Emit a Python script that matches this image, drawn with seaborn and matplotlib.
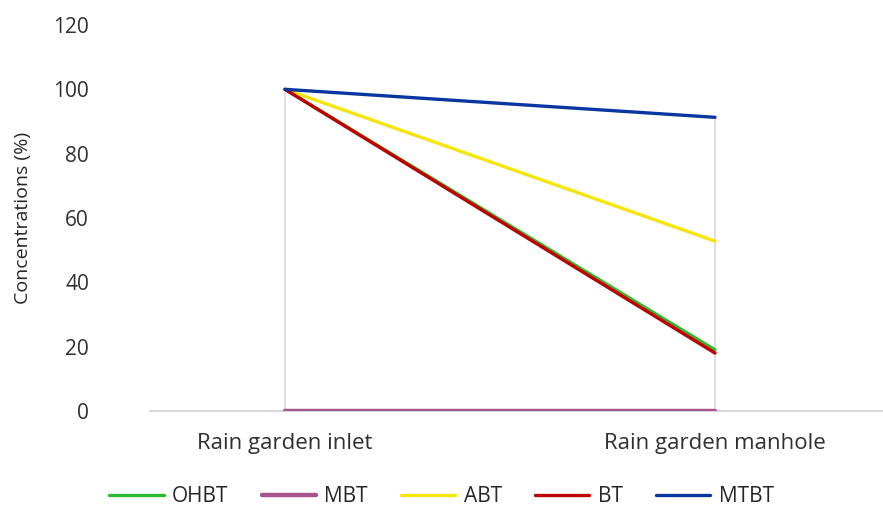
import matplotlib
matplotlib.use("Agg")
import matplotlib.pyplot as plt
import seaborn as sns
import pandas as pd
from matplotlib.lines import Line2D

sites = ["Rain garden inlet", "Rain garden manhole"]
series = ["OHBT", "MBT", "ABT", "BT", "MTBT"]
ohbt = [100, 19]
mbt = [0, 0]
abt = [100, 52.8]
bt = [100, 18]
mtbt = [100, 91.3]
y_ticks = [0, 20, 40, 60, 80, 100, 120]

colors = {"OHBT": "#2EB82E", "MBT": "#A8558E", "ABT": "#F5E50A",
          "BT": "#C00000", "MTBT": "#0A36A0"}

values = {"OHBT": ohbt, "MBT": mbt, "ABT": abt, "BT": bt, "MTBT": mtbt}
rows = []
for name in series:
    for i, site in enumerate(sites):
        rows.append({"pos": i, "site": site, "series": name, "value": values[name][i]})
df = pd.DataFrame(rows)

sns.set_style("white")
plt.rcParams["font.family"] = ["Open Sans", "DejaVu Sans"]

fig = plt.figure(figsize=(8.83, 5.12), dpi=100)
ax = fig.add_axes([150 / 883, (512 - 411) / 512, (883 - 150) / 883, (411 - 25) / 512])

# drop lines from highest point of each category down to the axis
tops = df.groupby("pos")["value"].max()
ax.vlines(tops.index, 0, tops.values, color="#D9D9D9", lw=1.2, zorder=1)

sns.lineplot(data=df, x="pos", y="value", hue="series", hue_order=series,
             palette=colors, ax=ax, lw=2.4, zorder=3, legend=False)
for line in ax.lines:
    if line.get_color().lower() == colors["MBT"].lower():
        line.set_linewidth(3.2)
        line.set_zorder(4)

ax.set_xlim(-135 / 430, 1 + 168 / 430)
ax.set_ylim(0, 120)
ax.set_yticks(y_ticks)
ax.set_xticks(range(len(sites)))
ax.set_xticklabels(sites)
ax.tick_params(axis="both", length=0, labelsize=15, colors="#303030")
ax.tick_params(axis="x", pad=16, labelsize=16)
ax.tick_params(axis="y", pad=44)
ax.set_xlabel("")
ax.set_ylabel("Concentrations (%)", fontsize=14, color="#262626", labelpad=15)
for s in ["top", "right", "left"]:
    ax.spines[s].set_visible(False)
ax.spines["bottom"].set_color("#D9D9D9")
ax.spines["bottom"].set_linewidth(1.5)
ax.grid(False)

handles = [Line2D([0], [0], color=colors[n], lw=3.2 if n == "MBT" else 2.4) for n in series]
fig.legend(handles, series, loc="center", bbox_to_anchor=(0.5, (512 - 497) / 512),
           ncol=5, frameon=False, fontsize=15, handlelength=2.6, columnspacing=1.6,
           handletextpad=0.4, labelcolor="#262626")

fig.savefig("out.png", dpi=100)
